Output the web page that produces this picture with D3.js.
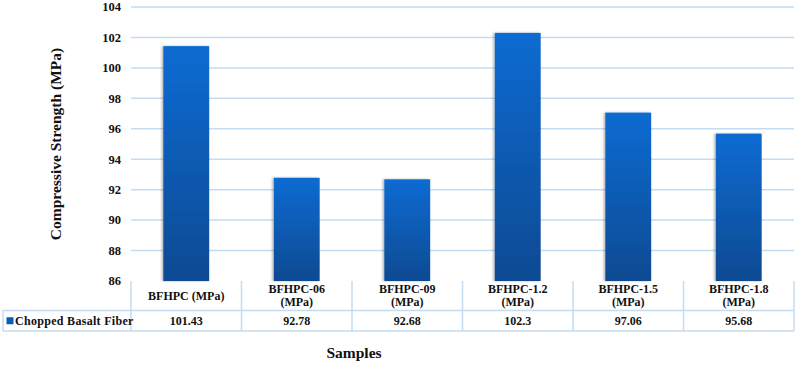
<!DOCTYPE html>
<html>
<head>
<meta charset="utf-8">
<script src="https://cdn.jsdelivr.net/npm/d3@7"></script>
<style>
    body { margin: 0; background: #fff; }
    svg text { font-family: "Liberation Serif", "Times New Roman", serif; font-weight: bold; fill: #111; }
</style>
</head>
<body>
<div id="chart"></div>
<script>
// data
const samples = ["BFHPC (MPa)", "BFHPC-06 (MPa)", "BFHPC-09 (MPa)", "BFHPC-1.2 (MPa)", "BFHPC-1.5 (MPa)", "BFHPC-1.8 (MPa)"];
const sampleLines = [["BFHPC (MPa)"], ["BFHPC-06", "(MPa)"], ["BFHPC-09", "(MPa)"], ["BFHPC-1.2", "(MPa)"], ["BFHPC-1.5", "(MPa)"], ["BFHPC-1.8", "(MPa)"]];
const strength = [101.43, 92.78, 92.68, 102.3, 97.06, 95.68];
const strengthLabels = ["101.43", "92.78", "92.68", "102.3", "97.06", "95.68"];
const seriesName = "Chopped Basalt Fiber";
const yTicks = [86, 88, 90, 92, 94, 96, 98, 100, 102, 104];

const width = 796, height = 365;
const margin = {top: 7, right: 2, bottom: 84, left: 131};
const gridColor = "#c3dcf2";

const svg = d3.select("#chart").append("svg")
    .attr("width", width)
    .attr("height", height);

const defs = svg.append("defs");
const grad = defs.append("linearGradient")
    .attr("id", "barGrad")
    .attr("x1", 0).attr("y1", 0).attr("x2", 0).attr("y2", 1);
grad.append("stop").attr("offset", "0%").attr("stop-color", "#0a6bd2");
grad.append("stop").attr("offset", "100%").attr("stop-color", "#0c4a92");

const shadow = defs.append("filter").attr("id", "shadow")
    .attr("x", "-20%").attr("y", "-5%").attr("width", "140%").attr("height", "110%");
shadow.append("feDropShadow")
    .attr("dx", -1.5).attr("dy", 0).attr("stdDeviation", 1)
    .attr("flood-color", "#000").attr("flood-opacity", 0.3);

const x = d3.scaleBand()
    .domain(samples)
    .range([margin.left, width - margin.right])
    .paddingInner(0)
    .paddingOuter(0);

const y = d3.scaleLinear()
    .domain([86, 104])
    .range([height - margin.bottom, margin.top]);

// gridlines
svg.append("g")
    .selectAll("line")
    .data(yTicks.slice(1))
    .join("line")
    .attr("x1", margin.left)
    .attr("x2", width - margin.right)
    .attr("y1", d => y(d))
    .attr("y2", d => y(d))
    .attr("stroke", gridColor)
    .attr("stroke-width", 1.5);

// y tick labels
svg.append("g")
    .selectAll("text")
    .data(yTicks)
    .join("text")
    .attr("x", 121)
    .attr("y", d => y(d))
    .attr("dy", "0.35em")
    .attr("text-anchor", "end")
    .attr("font-size", 12.5)
    .text(d => d);

// bars
const barW = x.bandwidth() * 0.415;
svg.append("g")
    .selectAll("rect")
    .data(strength)
    .join("rect")
    .attr("x", (d, i) => x(samples[i]) + (x.bandwidth() - barW) / 2)
    .attr("y", d => y(d))
    .attr("width", barW)
    .attr("height", d => y(86) - y(d))
    .attr("fill", "url(#barGrad)")
    .attr("filter", "url(#shadow)");

// data table
const rowTop = y(86);
const rowMid = 310.5;
const rowBot = 331;
const table = svg.append("g");

table.append("line")
    .attr("x1", 3).attr("x2", width - margin.right)
    .attr("y1", rowMid).attr("y2", rowMid)
    .attr("stroke", gridColor).attr("stroke-width", 1.5);
table.append("line")
    .attr("x1", 3).attr("x2", width - margin.right)
    .attr("y1", rowBot).attr("y2", rowBot)
    .attr("stroke", gridColor).attr("stroke-width", 1.5);
table.append("line")
    .attr("x1", 3).attr("x2", 3)
    .attr("y1", rowMid).attr("y2", rowBot)
    .attr("stroke", gridColor).attr("stroke-width", 1.5);

table.selectAll("line.col")
    .data(samples)
    .join("line")
    .attr("class", "col")
    .attr("x1", d => x(d)).attr("x2", d => x(d))
    .attr("y1", rowTop).attr("y2", rowBot)
    .attr("stroke", gridColor).attr("stroke-width", 1.5);

table.append("line")
    .attr("x1", width - margin.right).attr("x2", width - margin.right)
    .attr("y1", rowTop).attr("y2", rowBot)
    .attr("stroke", gridColor).attr("stroke-width", 1.5);

// header labels
samples.forEach((s, i) => {
    const lines = sampleLines[i];
    const cx = x(s) + x.bandwidth() / 2;
    const t = table.append("text")
        .attr("x", cx)
        .attr("text-anchor", "middle")
        .attr("font-size", 12);
    const startY = lines.length === 1 ? (rowTop + rowMid) / 2 + 4 : rowTop + 12;
    lines.forEach((l, k) => {
        t.append("tspan")
            .attr("x", cx)
            .attr("y", startY + k * 13)
            .text(l);
    });
});

// values row
table.selectAll("text.val")
    .data(strengthLabels)
    .join("text")
    .attr("class", "val")
    .attr("x", (d, i) => x(samples[i]) + x.bandwidth() / 2)
    .attr("y", (rowMid + rowBot) / 2 + 4)
    .attr("text-anchor", "middle")
    .attr("font-size", 12)
    .text(d => d);

// legend key in table
table.append("rect")
    .attr("x", 6.5).attr("y", (rowMid + rowBot) / 2 - 3.5)
    .attr("width", 7).attr("height", 7)
    .attr("fill", "#0a5cb8");
table.append("text")
    .attr("x", 15)
    .attr("y", (rowMid + rowBot) / 2 + 4)
    .attr("font-size", 12)
    .attr("letter-spacing", 0.3)
    .text(seriesName);

// axis titles
svg.append("text")
    .attr("transform", `translate(61, ${(y(86) + y(104)) / 2}) rotate(-90)`)
    .attr("text-anchor", "middle")
    .attr("font-size", 15.5)
    .text("Compressive Strength (MPa)");

svg.append("text")
    .attr("x", 354)
    .attr("y", 358)
    .attr("text-anchor", "middle")
    .attr("font-size", 15.5)
    .text("Samples");
</script>
</body>
</html>
